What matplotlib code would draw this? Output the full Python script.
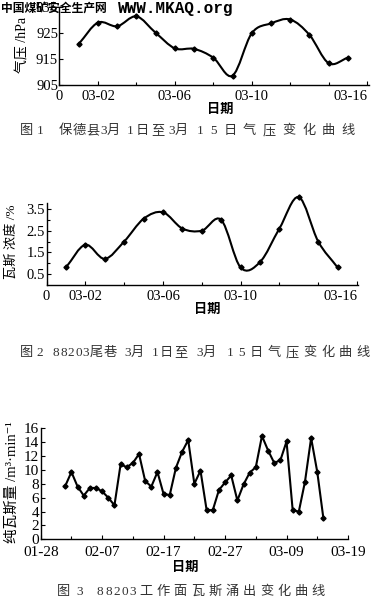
import matplotlib
matplotlib.use("Agg")
import matplotlib.pyplot as plt
from matplotlib.path import Path
from matplotlib.patches import PathPatch
from matplotlib.ticker import MultipleLocator, FixedLocator
import numpy as np

# ---------------------------------------------------------------------------
# Data
# ---------------------------------------------------------------------------
# Fig 1: air pressure, 3-01 .. 3-15 (day of March)
p_days = [1, 2, 3, 4, 5, 6, 7, 8, 9, 10, 11, 12, 13, 14, 15]
p_hpa = [920.6, 928.8, 927.4, 931.2, 924.9, 918.9, 918.7, 915.3, 908.4,
         924.7, 928.5, 930.0, 924.1, 913.2, 915.3]

# Fig 2: gas concentration in tail roadway (%)
c_days = [1, 2, 3, 4, 5, 6, 7, 8, 9, 10, 11, 12, 13, 14, 15]
c_pct = [0.8, 1.85, 1.2, 2.0, 3.05, 3.35, 2.6, 2.5, 3.0, 0.8, 1.05, 2.6,
         4.05, 2.0, 0.8]

# Fig 3: pure gas emission (m3/min); day 0 = 01-28
q_days = list(range(4, 47))
q_flow = [7.7, 9.7, 7.6, 6.3, 7.4, 7.4, 6.9, 6.0, 4.9, 10.8, 10.4, 11.0,
          12.3, 8.4, 7.6, 9.7, 6.5, 6.4, 10.3, 12.6, 14.3, 8.0, 9.9, 4.2,
          4.2, 7.1, 8.2, 9.2, 5.6, 7.9, 9.6, 10.4, 14.9, 12.8, 11.0, 11.4,
          14.1, 4.2, 4.0, 8.3, 14.6, 9.7, 3.0]

march_ticks = [0, 2, 6, 10, 16]
march_labels = ["0", "03-02", "03-06", "03-10", "03-16"]
q_ticks = [0, 10, 20, 30, 40, 50]
q_labels = ["01-28", "02-07", "02-17", "02-27", "03-09", "03-19"]

# captions as (text, left px, right px) pieces, spread like the scan
cap1 = [("图", 20, 33), ("1", 37, 42), ("保德县", 59, 99), ("3月", 100, 120),
        ("1日至", 127, 165), ("3月", 168, 188), ("15日气压变化曲线", 197, 355)]
cap2 = [("图", 20, 33), ("2", 36, 41), ("88203", 53, 89), ("尾巷", 90, 117),
        ("3月", 124, 144), ("1日至", 152, 188), ("3月", 196, 216),
        ("15日气压变化曲线", 227, 370)]
cap3 = [("图", 57, 70), ("3", 76, 81), ("88203", 97, 136),
        ("工作面瓦斯涌出变化曲线", 139, 325)]

plt.rcParams["font.family"] = ["Liberation Serif", "Noto Sans CJK SC",
                               "DejaVu Sans"]
CJK = ["Noto Sans CJK SC", "DejaVu Sans"]
MONO = ["Liberation Mono", "DejaVu Sans Mono"]

fig = plt.figure(figsize=(3.8, 6.03), dpi=100)
W, H = 380.0, 603.0


def smooth_path(x, y):
    """Catmull-Rom curve through the points, as cubic Bezier segments."""
    x = np.asarray(x, float)
    y = np.asarray(y, float)
    n = len(x)
    verts = [(x[0], y[0])]
    codes = [Path.MOVETO]
    for i in range(n - 1):
        i0 = max(i - 1, 0)
        i3 = min(i + 2, n - 1)
        mx1 = (x[i + 1] - x[i0]) / (i + 1 - i0)
        my1 = (y[i + 1] - y[i0]) / (i + 1 - i0)
        mx2 = (x[i3] - x[i]) / (i3 - i)
        my2 = (y[i3] - y[i]) / (i3 - i)
        verts += [(x[i] + mx1 / 3, y[i] + my1 / 3),
                  (x[i + 1] - mx2 / 3, y[i + 1] - my2 / 3),
                  (x[i + 1], y[i + 1])]
        codes += [Path.CURVE4] * 3
    return Path(verts, codes)


def style_axes(ax, size):
    for s in ("top", "right"):
        ax.spines[s].set_visible(False)
    for s in ("left", "bottom"):
        ax.spines[s].set_linewidth(1.0)
    ax.tick_params(which="both", direction="in", length=3, width=0.8,
                   colors="black", labelsize=size)
    ax.tick_params(which="minor", length=2)
    ax.tick_params(axis="y", pad=1)


def add_axes_px(left, right, top, bottom):
    return fig.add_axes([left / W, 1 - bottom / H,
                         (right - left) / W, (bottom - top) / H])


def caption(pieces, y, size=9.5):
    """Lay out each piece's characters evenly between its two edges."""
    em = size * 100 / 72.0
    for text, x0, x1 in pieces:
        widths = [em if ord(ch) > 0x2000 else 0.5 * em for ch in text]
        gap = 0.0
        if len(text) > 1:
            gap = max(((x1 - x0) - sum(widths)) / (len(text) - 1), 0.0)
        x = x0
        for ch, w in zip(text, widths):
            fig.text((x + w / 2) / W, 1 - y / H, ch, ha="center",
                     va="center", fontsize=size, color="#333333")
            x += w + gap


# ---------------------------------------------------------------- Fig 1
ax1 = add_axes_px(59.5, 369, 6.5, 84.5)
ax1.set_xlim(0, 16.1)
ax1.set_ylim(905, 935)
ax1.add_patch(PathPatch(smooth_path(p_days, p_hpa), fill=False,
                        edgecolor="black", lw=1.5))
ax1.plot(p_days, p_hpa, ls="none", marker="D", ms=2.6, color="black")
ax1.set_yticks([905, 915, 925, 935])
ax1.set_xticks(march_ticks)
ax1.set_xticklabels(march_labels)
ax1.xaxis.set_minor_locator(MultipleLocator(2))
style_axes(ax1, 10.5)
ax1.tick_params(axis="x", pad=4)
ax1.get_xticklabels()[-1].set_horizontalalignment("right")
fig.text(23 / W, 1 - 45 / H, "气压 /hPa", rotation=90, ha="center",
         va="center", fontsize=10)
fig.text(220 / W, 1 - 109 / H, "日期", ha="center", va="center",
         family=CJK, fontsize=9.5, fontweight="bold")
caption(cap1, 131)

# ---------------------------------------------------------------- Fig 2
ax2 = add_axes_px(46.5, 358, 203, 284.8)
ax2.set_xlim(0, 16.05)
ax2.set_ylim(0, 3.78)
ax2.add_patch(PathPatch(smooth_path(c_days, c_pct), fill=False,
                        edgecolor="black", lw=1.5, clip_on=False))
ax2.plot(c_days, c_pct, ls="none", marker="D", ms=2.6, color="black",
         clip_on=False)
ax2.set_yticks([0.5, 1.5, 2.5, 3.5])
ax2.yaxis.set_minor_locator(FixedLocator([1.0, 2.0, 3.0]))
ax2.set_xticks(march_ticks)
ax2.set_xticklabels(march_labels)
ax2.xaxis.set_minor_locator(MultipleLocator(2))
style_axes(ax2, 10.5)
ax2.tick_params(axis="x", pad=4)
ax2.get_xticklabels()[-1].set_horizontalalignment("right")
fig.text(12 / W, 1 - 242 / H, "瓦斯 浓度 /%", rotation=90, ha="center",
         va="center", fontsize=9.5)
fig.text(207 / W, 1 - 309 / H, "日期", ha="center", va="center",
         family=CJK, fontsize=9.5, fontweight="bold")
caption(cap2, 353)

# ---------------------------------------------------------------- Fig 3
ax3 = add_axes_px(40.7, 348, 428.3, 539.3)
ax3.set_xlim(0, 50)
ax3.set_ylim(0, 16)
ax3.plot(q_days, q_flow, color="black", lw=1.5, marker="D", ms=2.6)
ax3.set_yticks(range(0, 17, 2))
ax3.set_xticks(q_ticks)
ax3.set_xticklabels(q_labels)
ax3.xaxis.set_minor_locator(MultipleLocator(5))
style_axes(ax3, 11)
ax3.tick_params(axis="x", pad=5)
fig.text(12 / W, 1 - 482 / H, "纯瓦斯量 /m³·min⁻¹", rotation=90,
         ha="center", va="center", fontsize=10.5)
fig.text(185 / W, 1 - 567 / H, "日期", ha="center", va="center",
         family=CJK, fontsize=9.5, fontweight="bold")
caption(cap3, 592)

# ---------------------------------------------------------------- watermark
fig.text(1 / W, 1 - 8 / H, "中国煤矿安全生产网", ha="left", va="center",
         family=CJK, fontsize=8.5, fontweight="bold")
fig.text(118 / W, 1 - 8 / H, "WWW.MKAQ.org", ha="left", va="center",
         family=MONO, fontsize=11.5, fontweight="bold")

fig.savefig("out.png", dpi=100, facecolor="white")
plt.close(fig)
